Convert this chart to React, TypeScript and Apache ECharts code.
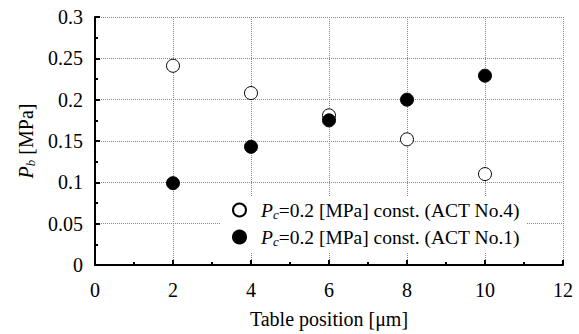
import React, { useEffect, useRef } from "react";
import * as echarts from "echarts";

const xPositions = [2, 4, 6, 8, 10];
const act4Values = [0.241, 0.208, 0.181, 0.152, 0.11];
const act1Values = [0.099, 0.143, 0.175, 0.2, 0.229];
const seriesNames = ["ACT No.4", "ACT No.1"];

const FONT = "'Liberation Serif', 'Times New Roman', serif";

export default function App() {
  const ref = useRef<HTMLDivElement>(null);
  useEffect(() => {
    if (!ref.current) return;
    const chart = echarts.init(ref.current, undefined, { renderer: "svg" });
    const mkRich = (fs: number, sub: number) => ({
      i: { fontFamily: FONT, fontSize: fs, fontStyle: "italic", color: "#000", lineHeight: 22, verticalAlign: "middle" },
      s: { fontFamily: FONT, fontSize: sub, fontStyle: "italic", color: "#000", lineHeight: 22, verticalAlign: "bottom" },
      t: { fontFamily: FONT, fontSize: fs, color: "#000", lineHeight: 22, verticalAlign: "middle" },
    });
    chart.setOption({
      animation: false,
      textStyle: { fontFamily: FONT },
      grid: { left: 95, top: 17, right: 16, bottom: 68, containLabel: false },
      legend: {
        orient: "vertical",
        left: 220,
        top: 196,
        itemWidth: 33,
        itemHeight: 13,
        itemGap: 6,
        padding: [4, 7, 4, 12],
        backgroundColor: "#fff",
        data: seriesNames,
        formatter: (name: string) => `{i|P}{s|c}{t|=0.2 [MPa] const. (${name})}`,
        textStyle: { fontFamily: FONT, fontSize: 19.5, color: "#000", rich: mkRich(19.5, 13) },
      },
      xAxis: {
        type: "value",
        min: 0,
        max: 12,
        interval: 2,
        name: "Table position [μm]",
        nameLocation: "middle",
        nameGap: 44,
        nameTextStyle: { fontFamily: FONT, fontSize: 20, color: "#000" },
        axisLine: { show: true, onZero: false, lineStyle: { color: "#000", width: 2 } },
        axisTick: { show: true, inside: true, length: 5, lineStyle: { color: "#000", width: 2 } },
        minorTick: { show: true, splitNumber: 2, length: 3, lineStyle: { color: "#000", width: 2 } },
        axisLabel: { fontFamily: FONT, fontSize: 20, color: "#000", margin: 15 },
        splitLine: { show: true, lineStyle: { type: "dotted", color: "#888", width: 1 } },
      },
      yAxis: {
        type: "value",
        min: 0,
        max: 0.3,
        interval: 0.05,
        name: "{i|P}{s|b}{t| [MPa]}",
        nameLocation: "middle",
        nameGap: 53,
        nameTextStyle: { fontFamily: FONT, fontSize: 20, color: "#000", rich: mkRich(20, 13) },
        axisLine: { show: true, onZero: false, lineStyle: { color: "#000", width: 2 } },
        axisTick: { show: true, inside: true, length: 5, lineStyle: { color: "#000", width: 2 } },
        minorTick: { show: true, splitNumber: 2, length: 3, lineStyle: { color: "#000", width: 2 } },
        axisLabel: { fontFamily: FONT, fontSize: 20, color: "#000", margin: 12 },
        splitLine: { show: true, lineStyle: { type: "dotted", color: "#888", width: 1 } },
      },
      series: [
        {
          name: seriesNames[0],
          type: "scatter",
          symbol: "circle",
          symbolSize: 13,
          itemStyle: { color: "#fff", borderColor: "#000", borderWidth: 1, opacity: 1 },
          data: xPositions.map((x, i) => [x, act4Values[i]]),
          z: 3,
        },
        {
          name: seriesNames[1],
          type: "scatter",
          symbol: "circle",
          symbolSize: 13,
          itemStyle: { color: "#000", borderColor: "#000", borderWidth: 1, opacity: 1 },
          data: xPositions.map((x, i) => [x, act1Values[i]]),
          z: 4,
        },
      ],
    });
    return () => chart.dispose();
  }, []);
  return <div ref={ref} style={{ width: 579, height: 334, position: "absolute", left: 0, top: 0 }} />;
}
